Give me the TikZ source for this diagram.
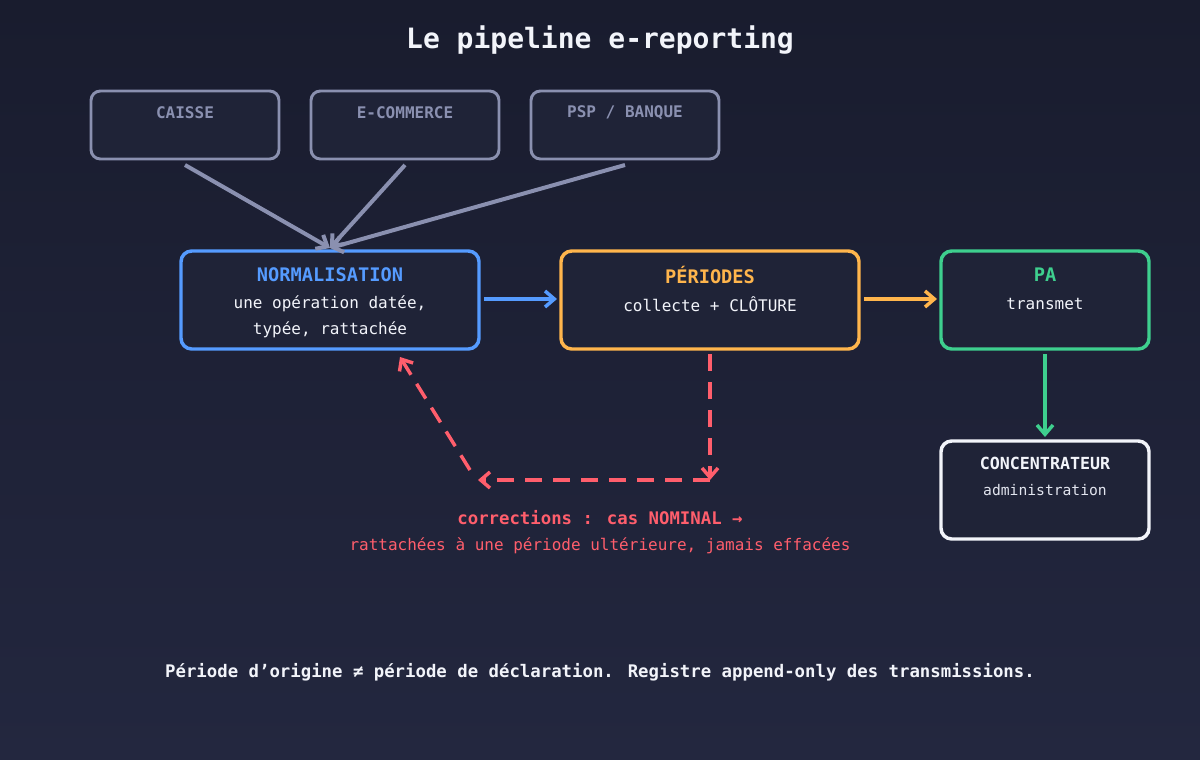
\documentclass[tikz,border=0pt]{standalone}
\usepackage{fontspec}
\setmainfont{DejaVu Sans Mono}
\usetikzlibrary{arrows.meta}
\definecolor{bgtop}{HTML}{191C2E}
\definecolor{bgbot}{HTML}{23273F}
\definecolor{boxf}{HTML}{1F2337}
\definecolor{grayc}{HTML}{8A90B0}
\definecolor{bluec}{HTML}{559BFF}
\definecolor{orc}{HTML}{FFB54C}
\definecolor{grc}{HTML}{3ECF8E}
\definecolor{redc}{HTML}{FF5E6C}
\definecolor{wc}{HTML}{F2F4FA}
\tikzset{
 box/.style={draw, line width=2.2pt, rounded corners=7pt, fill=boxf, minimum width=#1, anchor=north west, inner sep=0pt},
 src/.style={box=188*0.75pt, draw=grayc, minimum height=68*0.75pt, text=grayc, font=\bfseries\fontsize{12}{14}\selectfont, text depth=0pt, align=center},
 arr/.style={line width=2.6pt, -{Straight Barb[length=7pt,width=12pt]}},
 lbl/.style={font=\fontsize{12}{14}\selectfont, text=wc},
 ttl/.style={font=\bfseries\fontsize{14}{16}\selectfont},
}
\begin{document}
\begin{tikzpicture}[x=0.75pt,y=-0.75pt]
\shade[top color=bgtop,bottom color=bgbot] (0,0) rectangle (1200,760);
\useasboundingbox (0,0) rectangle (1200,760);
\node[font=\bfseries\fontsize{21}{24}\selectfont, text=wc] (title) at (600,40) {Le pipeline e-reporting};
% sources
\draw[grayc, line width=2.2pt, rounded corners=7pt, fill=boxf] (91,91) rectangle (279,159);
\draw[grayc, line width=2.2pt, rounded corners=7pt, fill=boxf] (311,91) rectangle (499,159);
\draw[grayc, line width=2.2pt, rounded corners=7pt, fill=boxf] (531,91) rectangle (719,159);
\node[text=grayc, font=\bfseries\fontsize{12}{14}\selectfont] (caisse) at (185,113) {CAISSE};
\node[text=grayc, font=\bfseries\fontsize{12}{14}\selectfont] (ecom) at (405,113) {E-COMMERCE};
\node[text=grayc, font=\bfseries\fontsize{12}{14}\selectfont] (psp) at (625,113) {PSP / BANQUE};
\coordinate (c1) at (185,165); \coordinate (c2) at (405,165); \coordinate (c3) at (625,165);
\coordinate (conv) at (330,248);
% main boxes
\draw[bluec, line width=2.6pt, rounded corners=8pt, fill=boxf] (181,251) rectangle (479,349);
\draw[orc, line width=2.6pt, rounded corners=8pt, fill=boxf] (561,251) rectangle (859,349);
\draw[grc, line width=2.6pt, rounded corners=8pt, fill=boxf] (941,251) rectangle (1149,349);
\draw[wc, line width=2.6pt, rounded corners=8pt, fill=boxf] (941,441) rectangle (1149,539);
\node[ttl, text=bluec] (norm) at (330,275) {NORMALISATION};
\node[lbl] (norm1) at (330,304) {une opération datée,};
\node[lbl] (norm2) at (330,330) {typée, rattachée};
\node[ttl, text=orc] (per) at (710,275) {PÉRIODES};
\node[lbl] (per1) at (710,304) {collecte + CLÔTURE};
\node[ttl, text=grc] (pa) at (1045,275) {PA};
\node[lbl] (pa1) at (1045,304) {transmet};
\node[font=\bfseries\fontsize{12.5}{14}\selectfont, text=wc] (conc) at (1045,463) {CONCENTRATEUR};
\node[font=\fontsize{11}{13}\selectfont, text=wc!85!grayc] (conc1) at (1045,490) {administration};
% arrows
\foreach \c in {c1,c2,c3} \draw[arr, grayc, line width=3pt] (\c) -- (conv);
\coordinate (n1) at (484,299); \coordinate (p0) at (557,299);
\coordinate (p1) at (864,299); \coordinate (a0) at (937,299);
\coordinate (a1) at (1045,354); \coordinate (k0) at (1045,437);
\draw[arr, bluec] (n1) -- (p0);
\draw[arr, orc] (p1) -- (a0);
\draw[arr, grc] (a1) -- (k0);
% corrections
\coordinate (r0) at (710,354); \coordinate (r1) at (710,480);
\coordinate (r2) at (478,480); \coordinate (r3) at (470,470); \coordinate (r4) at (400,357);
\draw[arr, redc, dash pattern=on 13pt off 8pt] (r0) -- (r1);
\draw[arr, redc, dash pattern=on 13pt off 8pt] (r1) -- (r2);
\draw[arr, redc, dash pattern=on 13pt off 8pt] (r3) -- (r4);
\node[font=\bfseries\fontsize{13}{15}\selectfont, text=redc] (corr) at (600,518) {corrections : cas NOMINAL →};
\node[font=\fontsize{12}{14}\selectfont, text=redc] (corr1) at (600,546) {rattachées à une période ultérieure, jamais effacées};
\node[font=\bfseries\fontsize{13}{15}\selectfont, text=wc] (foot) at (600,672) {Période d'origine ≠ période de déclaration. Registre append-only des transmissions.};
\end{tikzpicture}
\end{document}
